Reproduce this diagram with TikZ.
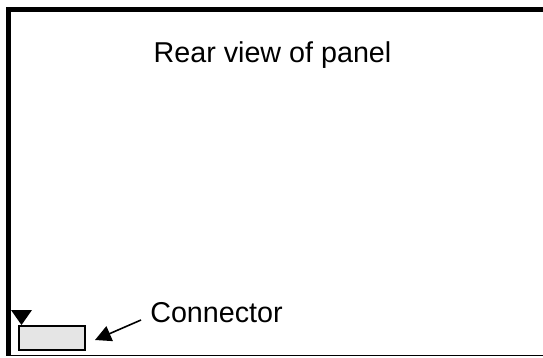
\documentclass[tikz,border=0pt]{standalone}
\usepackage{fontspec}
\setmainfont{Liberation Sans}
\usetikzlibrary{arrows.meta}
\begin{document}
\begin{tikzpicture}[x=1pt,y=-1pt,
  thickborder/.style={line width=5pt},
  thinborder/.style={line width=1.8pt},
  label/.style={font=\fontsize{28.7pt}{32pt}\selectfont, inner sep=0pt, anchor=base},
  connbox/.style={draw=black, fill=black!10, line width=1.5pt},
  pointer/.style={line width=1.6pt, -{Triangle[length=16pt,width=16pt]}}]
\useasboundingbox (0,0) rectangle (543,358);
% panel border
\draw[thickborder] (8.5,355) -- (8.5,9.5) -- (543,9.5);
\draw[thinborder] (6,355.5) -- (543,355.5);
% marker triangle
\fill (11,310) -- (32,310) -- (21.5,325) -- cycle;
% connector box
\draw[connbox] (19,326) rectangle (85,350);
\node[inner sep=0pt] (box) at (52,338) {};
% texts
\node[label] (title) at (272.5,63) {Rear view of panel};
\node[label] (conn) at (216.5,322) {Connector};
\coordinate (tail) at (141,320);
\coordinate (tip) at (95,340);
\draw[pointer] (tail) -- (tip);
\end{tikzpicture}
\end{document}
